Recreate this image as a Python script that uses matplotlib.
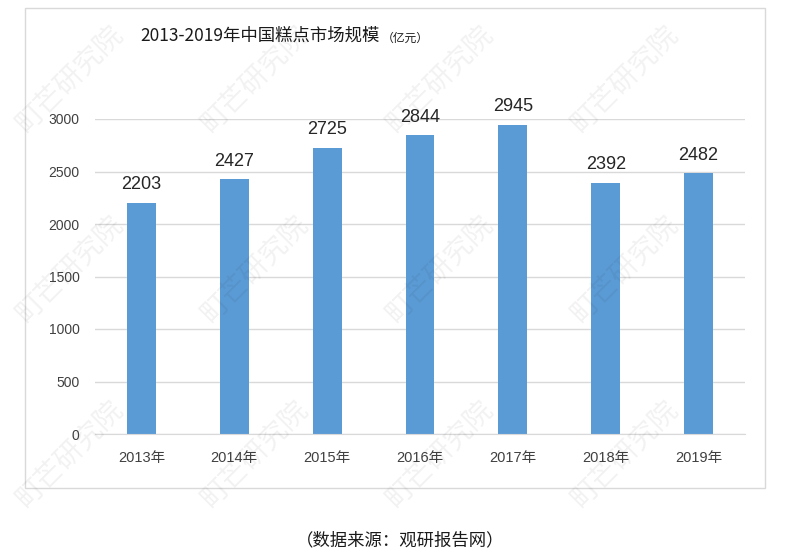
import matplotlib
matplotlib.use("Agg")
import matplotlib.pyplot as plt
from matplotlib.patches import Rectangle

years = ["2013年", "2014年", "2015年", "2016年", "2017年", "2018年", "2019年"]
values = [2203, 2427, 2725, 2844, 2945, 2392, 2482]
yticks = [0, 500, 1000, 1500, 2000, 2500, 3000]

plt.rcParams['font.family'] = ['Liberation Sans', 'Noto Sans CJK SC', 'DejaVu Sans']

fig = plt.figure(figsize=(8, 5.57), dpi=100)
fig.patch.set_facecolor('white')

# chart border
fig.patches.append(Rectangle((25/800, 1-488/557), 740/800, 480/557, transform=fig.transFigure,
                             fill=False, edgecolor='#D9D9D9', linewidth=1.0, zorder=0))

ax = fig.add_axes([95/800, 1-434/557, 650/800, 315/557])
x = list(range(len(years)))
ax.bar(x, values, width=0.31, color='#5B9BD5', zorder=3)
for xi, v in zip(x, values):
    ax.text(xi, v + 90, str(v), ha='center', va='bottom', fontsize=13, color='#262626')

ax.set_xlim(-0.5, len(years) - 0.5)
ax.set_ylim(0, 3000)
ax.set_yticks(yticks)
ax.set_yticklabels([str(t) for t in yticks], fontsize=10, color='#404040')
ax.set_xticks(x)
ax.set_xticklabels(years, fontsize=10.5, color='#404040')
ax.tick_params(axis='x', length=0, pad=12)
ax.tick_params(axis='y', length=0, pad=11)
ax.grid(axis='y', color='#D9D9D9', linewidth=1.0, zorder=0)
for s in ['top', 'right', 'left']:
    ax.spines[s].set_visible(False)
ax.spines['bottom'].set_color('#D9D9D9')
ax.spines['bottom'].set_zorder(4)
ax.set_facecolor('none')

title = fig.text(140/800, 1-36/557, "2013-2019年中国糕点市场规模", fontsize=12.5, ha='left', va='center',
                 family=['Noto Sans CJK SC'], color='#1a1a1a')
fig.canvas.draw()
bb = title.get_window_extent()
fig.text((bb.x1 + 2)/800, 1-38/557, "（亿元）", fontsize=8.5, ha='left', va='center',
         family=['Noto Sans CJK SC'], color='#1a1a1a')

fig.text(400/800, 1-540/557, "（数据来源：观研报告网）", fontsize=12.5, ha='center', va='center',
         family=['Noto Sans CJK SC'], color='#1a1a1a')

# watermark
wm_positions = [(70, 80), (255, 80), (440, 80), (625, 80),
                (70, 270), (255, 270), (440, 270), (625, 270),
                (70, 455), (255, 455), (440, 455), (625, 455)]
for px, py in wm_positions:
    fig.text(px/800, 1-py/557, "町芒研究院", fontsize=20, rotation=45, ha='center', va='center',
             family=['Noto Sans CJK SC'], color='#000000', alpha=0.055, zorder=10)

fig.savefig("out.png", dpi=100, facecolor='white')
